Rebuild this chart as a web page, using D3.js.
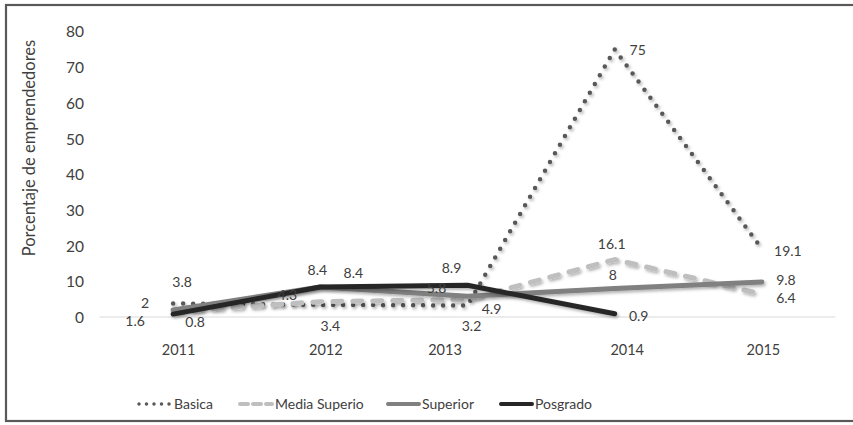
<!DOCTYPE html>
<html>
<head>
<meta charset="utf-8">
<script src="https://cdn.jsdelivr.net/npm/d3@7"></script>
<style>
  html, body { margin: 0; padding: 0; background: #fff; }
  text { font-family: Lato, "Open Sans", sans-serif; fill: #404040; }
</style>
</head>
<body>
<svg id="chart" width="853" height="425"></svg>
<script>
// ---- data ----
const years = ["2011", "2012", "2013", "2014", "2015"];
const basica = [3.8, 3.4, 3.2, 75, 19.1];
const mediaSuperio = [1.6, 4.3, 4.9, 16.1, 6.4];
const superior = [2, 8.4, 5.8, 8, 9.8];
const posgrado = [0.8, 8.4, 8.9, 0.9, null];
const yTicks = [0, 10, 20, 30, 40, 50, 60, 70, 80];
const seriesNames = ["Basica", "Media Superio", "Superior", "Posgrado"];
const yTitle = "Porcentaje de emprendedores";

// ---- styling / layout ----
const styles = {
  "Basica":        { color: "#595959", width: 4.5, dash: "0 10", cap: "round" },
  "Media Superio": { color: "#bfbfbf", width: 5,   dash: "9 11", cap: "round" },
  "Superior":      { color: "#808080", width: 5,   dash: null,   cap: "round" },
  "Posgrado":      { color: "#262626", width: 5,   dash: null,   cap: "round" }
};
// label offsets (dx, dy) relative to each point
const labelOffsets = {
  "Basica":        [[9,-21],[10,21],[4,21],[23,1],[26,2]],
  "Media Superio": [[-38,10],[-33,-7],[24,10],[-3,-15],[24,4]],
  "Superior":      [[-28,-7],[33,-14],[-31,-8],[-2,-13],[24,-2]],
  "Posgrado":      [[22,8],[-3,-17],[-16,-17],[24,2],[0,0]]
};
const tickDx = [5, 5, -23, 12, 1];

const svg = d3.select("#chart");
const W = 853, H = 425;

svg.append("rect").attr("x", 0).attr("y", 0).attr("width", W).attr("height", H).attr("fill", "#fff");

const defs = svg.append("defs");
const f = defs.append("filter").attr("id", "shadow")
  .attr("x", "-10%").attr("y", "-10%").attr("width", "120%").attr("height", "130%");
f.append("feDropShadow").attr("dx", 1.5).attr("dy", 2).attr("stdDeviation", 1.6)
  .attr("flood-color", "#000").attr("flood-opacity", 0.3);

// outer border
svg.append("rect").attr("x", 6).attr("y", 5).attr("width", 850).attr("height", 416)
  .attr("fill", "none").attr("stroke", "#595959").attr("stroke-width", 2.2);

const x = d3.scalePoint().domain(years).range([99.5, 835.5]).padding(0.5);
const y = d3.scaleLinear().domain([0, 80]).range([317, 31.5]);

// zero baseline
svg.append("line").attr("x1", 99.5).attr("x2", 835.5).attr("y1", y(0)).attr("y2", y(0))
  .attr("stroke", "#d9d9d9").attr("stroke-width", 1);

// y axis labels
const yAxis = d3.axisLeft(y).tickValues(yTicks).tickSize(0).tickPadding(0);
const gy = svg.append("g").attr("transform", "translate(84,0)").call(yAxis);
gy.select(".domain").remove();
gy.selectAll("text").style("font-size", "15.5px").style("font-family", "Lato, sans-serif")
  .attr("fill", "#404040").attr("dy", "0.35em");

// x axis labels
const xAxis = d3.axisBottom(x).tickSize(0).tickPadding(0);
const gx = svg.append("g").attr("transform", "translate(0,350)").call(xAxis);
gx.select(".domain").remove();
gx.selectAll("text").style("font-size", "14.5px").style("font-family", "Lato, sans-serif")
  .attr("fill", "#404040").attr("dy", "0.35em")
  .attr("dx", (d, i) => tickDx[i]);

// y title
svg.append("text").attr("transform", "translate(29,148) rotate(-90)")
  .attr("text-anchor", "middle").attr("dy", "0.35em")
  .style("font-size", "16.5px").text(yTitle);

const allSeries = [basica, mediaSuperio, superior, posgrado];
const line = d3.line()
  .defined(d => d.v != null)
  .x(d => x(d.year)).y(d => y(d.v));

const gLines = svg.append("g");
seriesNames.forEach((name, si) => {
  const data = years.map((yr, i) => ({ year: yr, v: allSeries[si][i] }));
  const st = styles[name];
  const p = gLines.append("path").datum(data)
    .attr("d", line).attr("fill", "none")
    .attr("stroke", st.color).attr("stroke-width", st.width)
    .attr("stroke-linecap", st.cap).attr("stroke-linejoin", "round")
    .attr("filter", "url(#shadow)");
  if (st.dash) p.attr("stroke-dasharray", st.dash);
});

// data labels
const gLabels = svg.append("g");
seriesNames.forEach((name, si) => {
  years.forEach((yr, i) => {
    const v = allSeries[si][i];
    if (v == null) return;
    const off = labelOffsets[name][i];
    gLabels.append("text")
      .attr("x", x(yr) + off[0]).attr("y", y(v) + off[1])
      .attr("text-anchor", "middle").attr("dy", "0.35em")
      .style("font-size", "14px").text(v);
  });
});

// legend
const legendItems = [
  { name: "Basica", x0: 137, x1: 173 },
  { name: "Media Superio", x0: 238, x1: 274 },
  { name: "Superior", x0: 386, x1: 421 },
  { name: "Posgrado", x0: 499, x1: 534 }
];
const gLeg = svg.append("g");
const legY = 404;
legendItems.forEach(it => {
  const st = styles[it.name];
  const ln = gLeg.append("line").attr("x1", it.x0 + 2).attr("x2", it.x1 - 2)
    .attr("y1", legY).attr("y2", legY)
    .attr("stroke", st.color).attr("stroke-width", st.width - 1)
    .attr("stroke-linecap", st.cap);
  if (st.dash) ln.attr("stroke-dasharray", it.name === "Basica" ? "0 7.5" : "8 5");
  gLeg.append("text").attr("x", it.x1 + 1).attr("y", legY).attr("dy", "0.35em")
    .style("font-size", "14px").text(it.name);
});
</script>
</body>
</html>
